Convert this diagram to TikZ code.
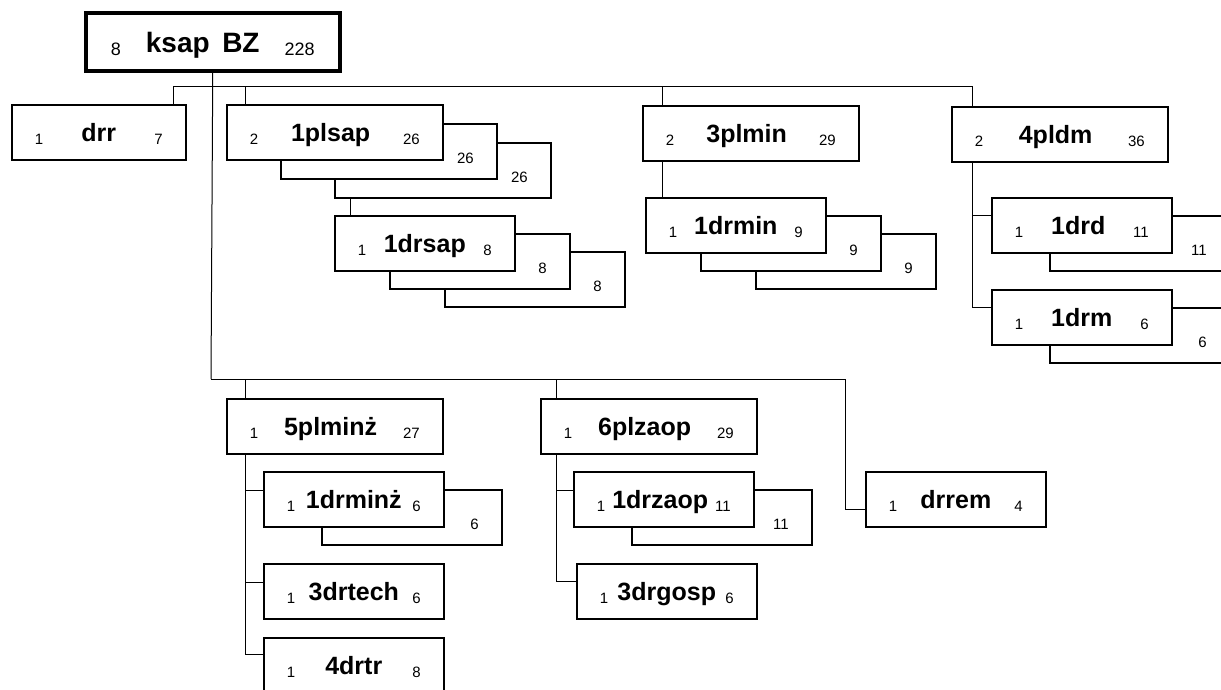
\documentclass[tikz,border=0pt]{standalone}
\usepackage{fontspec}
\setmainfont{Liberation Sans}

\newcommand{\numf}[1]{\raisebox{-3pt}{\fontsize{15}{18}\selectfont #1}}
\newcommand{\unitlbl}[3]{\makebox[\linewidth]{\numf{#1}\hfill{\fontsize{25}{30}\selectfont\bfseries #2}\hfill\numf{#3}}}
\newcommand{\backlbl}[1]{\makebox[\linewidth]{\hfill\numf{#1}}}
\newcommand{\rootlbl}[3]{\makebox[\linewidth]{\raisebox{-3pt}{\fontsize{18}{20}\selectfont #1}\hfill{\fontsize{28}{32}\selectfont\bfseries #2}\hfill\raisebox{-3pt}{\fontsize{18}{20}\selectfont #3}}}

\begin{document}
\begin{tikzpicture}[x=1pt, y=-1pt,
    unit/.style = {shape=rectangle, draw, fill=white, line width=1.6pt,
      inner sep=0pt, minimum height=55pt, text height=19pt, text depth=1pt,
      anchor=north west},
    wide/.style = {unit, minimum width=216pt, text width=170pt},
    narrow/.style = {unit, minimum width=180pt, text width=134pt},
    root/.style = {unit, line width=3.5pt, minimum width=254pt,
      minimum height=58pt, text width=204pt, text height=21pt, text depth=0pt},
    link/.style = {line width=1pt}]
  \useasboundingbox (0,0) rectangle (1221,689);

  % upper level
  \node[root] (ksap) at (84,11) {\rootlbl{8}{ksap\hspace{0.45em}BZ}{228}};
  \node[narrow, minimum width=174pt, text width=128pt] (drr) at (11,104) {\unitlbl{1}{drr}{7}};

  \node[wide] (plsapC) at (334,142) {\backlbl{26}};
  \node[wide] (plsapB) at (280,123) {\backlbl{26}};
  \node[wide] (plsap) at (226,104) {\unitlbl{2}{1plsap}{26}};
  \node[narrow] (drsapC) at (444,251) {\backlbl{8}};
  \node[narrow] (drsapB) at (389,233) {\backlbl{8}};
  \node[narrow] (drsap) at (334,215) {\unitlbl{1}{1drsap}{8}};

  \node[wide] (plmin) at (642,105) {\unitlbl{2}{3plmin}{29}};
  \node[narrow] (drminC) at (755,233) {\backlbl{9}};
  \node[narrow] (drminB) at (700,215) {\backlbl{9}};
  \node[narrow] (drmin) at (645,197) {\unitlbl{1}{1drmin}{9}};

  \node[wide] (pldm) at (951,106) {\unitlbl{2}{4pldm}{36}};
  \node[narrow] (drdB) at (1049,215) {\backlbl{11}};
  \node[narrow] (drd) at (991,197) {\unitlbl{1}{1drd}{11}};
  \node[narrow] (drmB) at (1049,307) {\backlbl{6}};
  \node[narrow] (drm) at (991,289) {\unitlbl{1}{1drm}{6}};

  % lower level
  \node[wide] (plminz) at (226,398) {\unitlbl{1}{5plminż}{27}};
  \node[narrow] (drminzB) at (321,489) {\backlbl{6}};
  \node[narrow] (drminz) at (263,471) {\unitlbl{1}{1drminż}{6}};
  \node[narrow] (drtech) at (263,563) {\unitlbl{1}{3drtech}{6}};
  \node[narrow] (drtr) at (263,637) {\unitlbl{1}{4drtr}{8}};

  \node[wide] (plzaop) at (540,398) {\unitlbl{1}{6plzaop}{29}};
  \node[narrow] (drzaopB) at (631,489) {\backlbl{11}};
  \node[narrow] (drzaop) at (573,471) {\unitlbl{1}{1drzaop}{11}};
  \node[narrow] (drgosp) at (576,563) {\unitlbl{1}{3drgosp}{6}};

  \node[narrow] (drrem) at (865,471) {\unitlbl{1}{drrem}{4}};

  % connectors
  \coordinate (top) at (211,86);
  \coordinate (low) at (211,379);
  \draw[link] (ksap.south) -- (low);
  \draw[link] ([xshift=-13pt]drr.north east) |- (top);
  \draw[link] ([xshift=19pt]plsap.north west) |- (top);
  \draw[link] ([xshift=20pt]plmin.north west) |- (top);
  \draw[link] ([xshift=21pt]pldm.north west) |- (top);
  \draw[link] ([xshift=16pt]plsapC.south west) -- ([xshift=16pt]drsap.north west);
  \draw[link] ([xshift=20pt]plmin.south west) -- ([xshift=17pt]drmin.north west);
  \draw[link] ([xshift=21pt]pldm.south west) |- ([yshift=-18pt]drd.north west);
  \draw[link] ([xshift=21pt]pldm.south west) |- ([yshift=-18pt]drm.north west);

  \draw[link] ([xshift=19pt]plminz.north west) |- (low);
  \draw[link] ([xshift=16pt]plzaop.north west) |- (low);
  \draw[link] ([yshift=-10pt]drrem.west) -- ++(-20,0) |- (low);
  \draw[link] ([xshift=19pt]plminz.south west) |- ([yshift=-19pt]drminz.north west);
  \draw[link] ([xshift=19pt]plminz.south west) |- ([yshift=-19pt]drtech.north west);
  \draw[link] ([xshift=19pt]plminz.south west) |- ([yshift=-17pt]drtr.north west);
  \draw[link] ([xshift=16pt]plzaop.south west) |- ([yshift=-19pt]drzaop.north west);
  \draw[link] ([xshift=16pt]plzaop.south west) |- ([yshift=-18pt]drgosp.north west);
\end{tikzpicture}
\end{document}
